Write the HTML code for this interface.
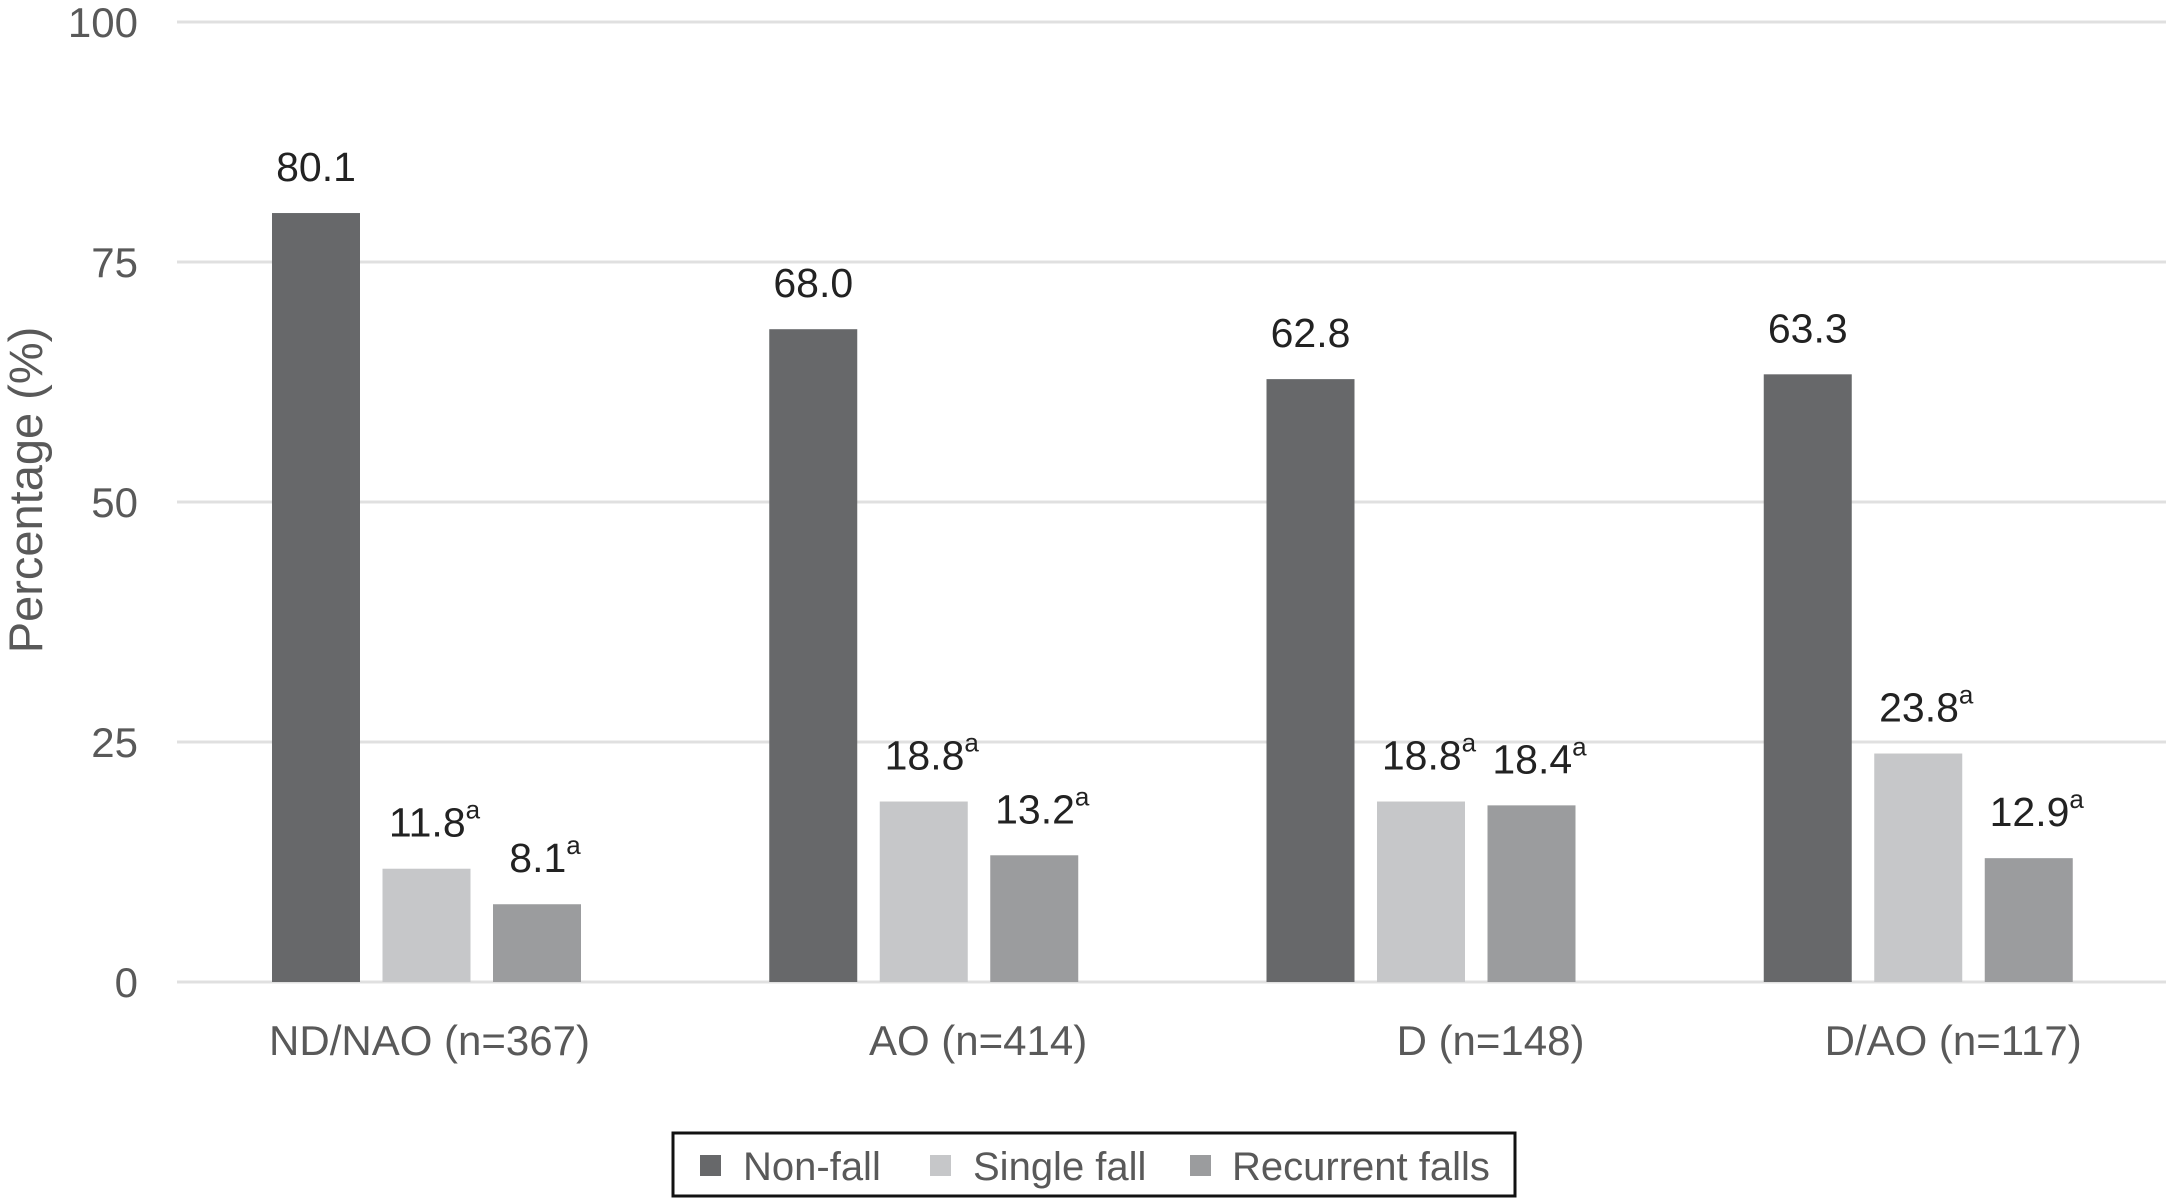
<!DOCTYPE html>
<html><head><meta charset="utf-8">
<style>
html,body{margin:0;padding:0;background:#fff;}
svg{display:block;font-family:"Liberation Sans",Arial,sans-serif;}
</style></head>
<body>
<svg id="chart" width="2166" height="1199" viewBox="0 0 2166 1199" xmlns="http://www.w3.org/2000/svg">
  <g id="grid"></g>
  <g id="yticks"></g>
  <g id="bars"></g>
  <g id="labels"></g>
  <g id="xlabels"></g>
  <text transform="translate(42,490) rotate(-90)" text-anchor="middle" font-size="47" fill="#595959">Percentage (%)</text>
  <g>
    <rect x="673" y="1133" width="842" height="63" fill="#fff" stroke="#111" stroke-width="3"/>
    <g>
      <rect x="700" y="1155" width="21" height="21" fill="#67686a"/>
      <text x="743" y="1180" font-size="40" fill="#595959">Non-fall</text>
    </g>
    <g>
      <rect x="930" y="1155" width="21" height="21" fill="#c6c7c9"/>
      <text x="973" y="1180" font-size="40" fill="#595959">Single fall</text>
    </g>
    <g>
      <rect x="1190" y="1155" width="21" height="21" fill="#9b9c9e"/>
      <text x="1232" y="1180" font-size="40" fill="#595959">Recurrent falls</text>
    </g>
  </g>
</svg>
<script>
const categories = ["ND/NAO (n=367)", "AO (n=414)", "D (n=148)", "D/AO (n=117)"];
const nonFall = [80.1, 68.0, 62.8, 63.3];
const singleFall = [11.8, 18.8, 18.8, 23.8];
const recurrentFalls = [8.1, 13.2, 18.4, 12.9];
const singleSup = [true, true, true, true];
const recurrentSup = [true, true, true, true];
const yTicks = [0, 25, 50, 75, 100];

const NS = "http://www.w3.org/2000/svg";
const plotLeft = 177, plotRight = 2166, yTop = 22, yBottom = 982;
const band = (plotRight - plotLeft) / categories.length;
function y(v){ return yBottom - (v / 100) * (yBottom - yTop); }
function bandX(i){ return plotLeft + i * band; }
function mk(tag, attrs, parent){
  const e = document.createElementNS(NS, tag);
  for (const k in attrs) e.setAttribute(k, attrs[k]);
  parent.appendChild(e);
  return e;
}
const grid = document.getElementById('grid');
const yt = document.getElementById('yticks');
yTicks.forEach(t => {
  const l = mk('line', {x1: plotLeft, x2: plotRight, y1: y(t), y2: y(t), stroke: '#e0e0e0', 'stroke-width': 3}, grid);
  
  
  const tx = mk('text', {x: 138, y: y(t) + 15, 'text-anchor': 'end', 'font-size': 42, fill: '#595959'}, yt);
  tx.textContent = t;
  
  
});
const series = [
  {name: 'non-fall', vals: nonFall, color: '#67686a', sup: null},
  {name: 'single-fall', vals: singleFall, color: '#c6c7c9', sup: singleSup},
  {name: 'recurrent-falls', vals: recurrentFalls, color: '#9b9c9e', sup: recurrentSup}
];
const barsG = document.getElementById('bars');
const labG = document.getElementById('labels');
const xlG = document.getElementById('xlabels');
const barW = 88, barStep = 110.5, firstOff = 95;
categories.forEach((c, i) => {
  series.forEach((s, j) => {
    const v = s.vals[i];
    const x = bandX(i) + firstOff + j * barStep;
    const r = mk('rect', {x: x, y: y(v), width: barW, height: yBottom - y(v), fill: s.color}, barsG);
    
    
    const t = mk('text', {x: x + barW / 2, y: y(v) - 32, 'text-anchor': 'middle', 'font-size': 41, fill: '#222'}, labG);
    t.textContent = v.toFixed(1);
    if (s.sup && s.sup[i]) {
      const ts = document.createElementNS(NS, 'tspan');
      ts.setAttribute('font-size', '26');
      ts.setAttribute('dy', '-18');
      ts.textContent = 'a';
      t.appendChild(ts);
      t.setAttribute('x', x + barW / 2 + 8);
    }
    
    
  });
  const xl = mk('text', {x: bandX(i) + 413, y: 1055, 'text-anchor': 'end', 'font-size': 42, fill: '#595959'}, xlG);
  xl.textContent = c;
  
  
});
</script>
</body></html>
